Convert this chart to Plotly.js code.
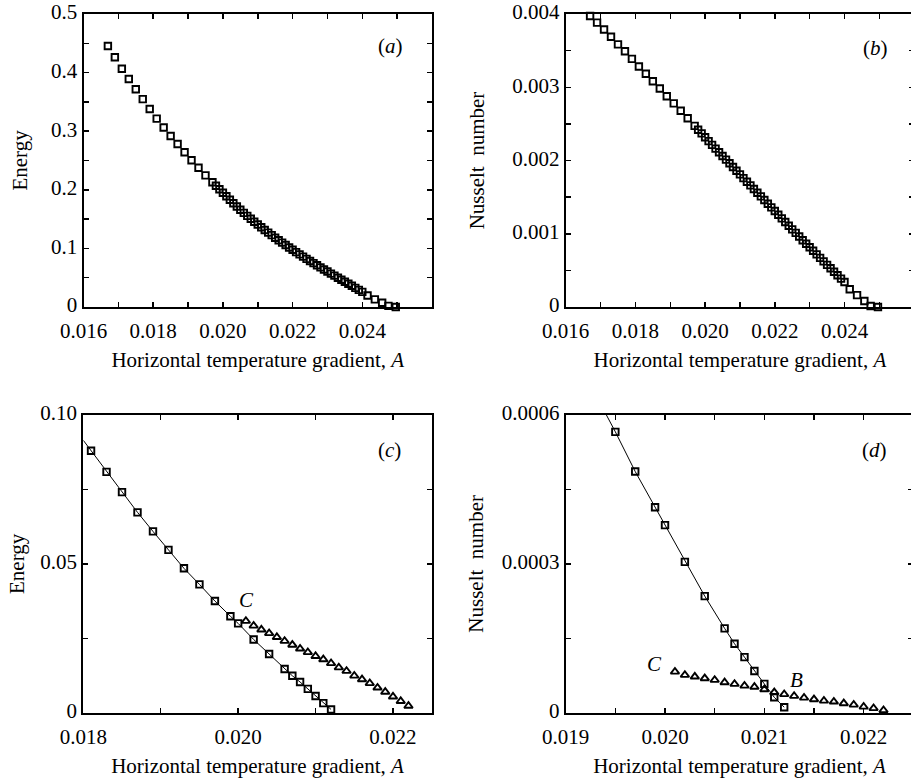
<!DOCTYPE html>
<html>
<head>
<meta charset="utf-8">
<script src="https://cdn.plot.ly/plotly-3.0.1.min.js"></script>
<style>
html, body { margin: 0; padding: 0; overflow: hidden; background: #fff; }
#chart { width: 920px; height: 781px; }
</style>
</head>
<body>
<div id="chart"></div>
<script>
// ---------- data ----------
// Panels (a) and (b): horizontal temperature gradient A
const gradientAB = [
  0.0167,0.0169,0.0171,0.0173,0.0175,0.0177,0.0179,0.0181,0.0183,0.0185,0.0187,0.0189,0.0191,0.0193,0.0195,0.0197,
  0.0198,0.0199,0.0200,0.0201,0.0202,0.0203,0.0204,0.0205,0.0206,0.0207,0.0208,0.0209,0.0210,0.0211,0.0212,0.0213,
  0.0214,0.0215,0.0216,0.0217,0.0218,0.0219,0.0220,0.0221,0.0222,0.0223,0.0224,0.0225,0.0226,0.0227,0.0228,0.0229,
  0.0230,0.0231,0.0232,0.0233,0.0234,0.0235,0.0236,0.0237,0.0238,0.0239,0.0240,
  0.02415,0.02436,0.02457,0.02475,0.02496
];
const energyA = [
  0.4454,0.4262,0.4066,0.3890,0.3716,0.3547,0.3378,0.3215,0.3063,0.2917,0.2782,0.2640,0.2505,0.2376,0.2247,0.2128,
  0.2070,0.2010,0.1950,0.1890,0.1830,0.1770,0.1715,0.1660,0.1607,0.1555,0.1505,0.1456,0.1408,0.1361,0.1315,0.1270,
  0.1226,0.1183,0.1140,0.1098,0.1057,0.1016,0.0976,0.0937,0.0898,0.0860,0.0822,0.0785,0.0748,0.0712,0.0676,0.0640,
  0.0605,0.0570,0.0535,0.0500,0.0466,0.0432,0.0398,0.0362,0.0327,0.0292,0.0258,
  0.0195,0.0130,0.0073,0.0020,0.0000
];
const nusseltB = [
  0.003973,0.003882,0.003788,0.003689,0.003586,0.003491,0.003388,0.003284,0.003185,0.003081,0.002982,0.002878,0.002780,0.002680,0.002577,0.002473,
  0.002420,0.002370,0.002318,0.002265,0.002213,0.002162,0.002112,0.002062,0.002012,0.001962,0.001911,0.001861,0.001810,0.001760,0.001710,0.001660,
  0.001610,0.001560,0.001510,0.001460,0.001410,0.001360,0.001310,0.001260,0.001210,0.001160,0.001110,0.001060,0.001012,0.000962,0.000912,0.000864,
  0.000815,0.000767,0.000719,0.000671,0.000623,0.000575,0.000528,0.000481,0.000434,0.000388,0.000342,
  0.000243,0.000162,0.000081,0.0000135,0.0
];

// Panel (c): energy
const gradientC_sq = [0.0181,0.0183,0.0185,0.0187,0.0189,0.0191,0.0193,0.0195,0.0197,0.0199,0.0200,0.0202,0.0204,0.0206,0.0207,0.0208,0.0209,0.0210,0.0211,0.0212];
const energyC_sq   = [0.0880,0.0809,0.0741,0.0673,0.0609,0.0547,0.0485,0.0431,0.0375,0.0324,0.0300,0.0246,0.0197,0.0147,0.0124,0.0103,0.0080,0.0056,0.0032,0.0011];
const gradientC_line = [0.0180,0.0181,0.0183,0.0185,0.0187,0.0189,0.0191,0.0193,0.0195,0.0197,0.0199,0.0200,0.0202,0.0204,0.0206,0.0207,0.0208,0.0209,0.0210,0.0211,0.0212];
const energyC_line   = [0.0915,0.0880,0.0809,0.0741,0.0673,0.0609,0.0547,0.0485,0.0431,0.0375,0.0324,0.0300,0.0246,0.0197,0.0147,0.0124,0.0103,0.0080,0.0056,0.0032,0.0011];
const gradientC_tri = [0.0201,0.0202,0.0203,0.0204,0.0205,0.0206,0.0207,0.0208,0.0209,0.0210,0.0211,0.0212,0.0213,0.0214,0.0215,0.0216,0.0217,0.0218,0.0219,0.0220,0.0221,0.0222];
const energyC_tri   = [0.0308,0.0292,0.0279,0.0267,0.0254,0.0241,0.0228,0.0215,0.0203,0.0190,0.0179,0.0166,0.0152,0.0140,0.0124,0.0112,0.0099,0.0084,0.0070,0.0054,0.0039,0.0023];

// Panel (d): Nusselt number
const gradientD_sq = [0.0195,0.0197,0.0199,0.0200,0.0202,0.0204,0.0206,0.0207,0.0208,0.0209,0.0210,0.0211,0.0212];
const nusseltD_sq  = [0.000566,0.000486,0.000414,0.000378,0.000304,0.000235,0.000170,0.000139,0.000112,0.000084,0.000058,0.000031,0.000011];
const gradientD_line = [0.01941,0.0195,0.0197,0.0199,0.0200,0.0202,0.0204,0.0206,0.0207,0.0208,0.0209,0.0210,0.0211,0.0212];
const nusseltD_line  = [0.0006,0.000566,0.000486,0.000414,0.000378,0.000304,0.000235,0.000170,0.000139,0.000112,0.000084,0.000058,0.000031,0.000011];
const gradientD_tri = [0.0201,0.0202,0.0203,0.0204,0.0205,0.0206,0.0207,0.0208,0.0209,0.0210,0.0211,0.0212,0.0213,0.0214,0.0215,0.0216,0.0217,0.0218,0.0219,0.0220,0.0221,0.0222];
const nusseltD_tri  = [0.0000826,0.0000760,0.0000726,0.0000693,0.0000659,0.0000612,0.0000578,0.0000544,0.0000520,0.0000471,0.0000411,0.0000371,0.0000337,0.0000302,0.0000270,0.0000240,0.0000222,0.0000189,0.0000161,0.0000121,0.0000089,0.0000050];

// Tick labels
const ticksAB_x = [0.016,0.017,0.018,0.019,0.020,0.021,0.022,0.023,0.024,0.025];
const labelsAB_x = ["0.016","","0.018","","0.020","","0.022","","0.024",""];
const ticksA_y = [0,0.05,0.1,0.15,0.2,0.25,0.3,0.35,0.4,0.45,0.5];
const labelsA_y = ["0","","0.1","","0.2","","0.3","","0.4","","0.5"];
const ticksB_y = [0,0.0005,0.001,0.0015,0.002,0.0025,0.003,0.0035,0.004];
const labelsB_y = ["0","","0.001","","0.002","","0.003","","0.004"];
const ticksC_x = [0.018,0.019,0.020,0.021,0.022];
const labelsC_x = ["0.018","","0.020","","0.022"];
const ticksC_y = [0,0.025,0.05,0.075,0.1];
const labelsC_y = ["0","","0.05","","0.10"];
const ticksD_x = [0.019,0.0195,0.020,0.0205,0.021,0.0215,0.022];
const labelsD_x = ["0.019","","0.020","","0.021","","0.022"];
const ticksD_y = [0,0.00015,0.0003,0.00045,0.0006];
const labelsD_y = ["0","","0.0003","","0.0006"];

const xTitle = "Horizontal temperature gradient, <i>A</i>";

// ---------- layout ----------
const W = 920, H = 781;
const FONT = "'Liberation Serif', 'Times New Roman', serif";
const px = v => v / W;
const py = v => 1 - v / H;

function sq(x, y, xa, ya) {
  return {x: x, y: y, xaxis: xa, yaxis: ya, type: 'scatter', mode: 'markers', cliponaxis: false,
    marker: {symbol: 'square-open', size: 6.5, color: '#000', line: {width: 1.9, color: '#000'}}, showlegend: false, hoverinfo: 'skip'};
}
function tri(x, y, xa, ya) {
  return {x: x, y: y, xaxis: xa, yaxis: ya, type: 'scatter', mode: 'markers', cliponaxis: false,
    marker: {symbol: 'triangle-up-open', size: 7.5, color: '#000', line: {width: 1.9, color: '#000'}}, showlegend: false, hoverinfo: 'skip'};
}
function ln(x, y, xa, ya) {
  return {x: x, y: y, xaxis: xa, yaxis: ya, type: 'scatter', mode: 'lines',
    line: {color: '#000', width: 1}, showlegend: false, hoverinfo: 'skip'};
}

const traces = [
  sq(gradientAB, energyA, 'x', 'y'),
  sq(gradientAB, nusseltB, 'x2', 'y2'),
  ln(gradientC_line, energyC_line, 'x3', 'y3'),
  sq(gradientC_sq, energyC_sq, 'x3', 'y3'),
  tri(gradientC_tri, energyC_tri, 'x3', 'y3'),
  ln(gradientD_line, nusseltD_line, 'x4', 'y4'),
  sq(gradientD_sq, nusseltD_sq, 'x4', 'y4'),
  tri(gradientD_tri, nusseltD_tri, 'x4', 'y4')
];

function common() {
  return {tickmode: 'array', ticks: 'inside', ticklen: 5, tickwidth: 1.5, tickcolor: '#000',
    showline: true, linewidth: 2, linecolor: '#000', mirror: 'ticks', showgrid: false, zeroline: false,
    automargin: false, ticklabeloverflow: 'allow',
    tickfont: {family: FONT, size: 21, color: '#000'}};
}
function xax(domain, range, vals, text, anchor) {
  return Object.assign(common(), {domain: domain, range: range, anchor: anchor, tickvals: vals, ticktext: text,
    ticklabelstandoff: 4,
    title: {text: xTitle, font: {family: FONT, size: 21, color: '#000'}, standoff: 10}});
}
function yax(domain, range, vals, text, anchor, title, standoff) {
  return Object.assign(common(), {domain: domain, range: range, anchor: anchor, tickvals: vals, ticktext: text,
    ticklabelshift: -2,
    title: {text: title, font: {family: FONT, size: 21, color: '#000'}, standoff: standoff}});
}

function note(text, x, y, xr, yr) {
  return {text: text, x: x, y: y, xref: xr, yref: yr, showarrow: false, xanchor: 'center', yanchor: 'middle',
    font: {family: FONT, size: 21, color: '#000'}};
}

const layout = {
  width: W, height: H,
  margin: {l: 0, r: 0, t: 0, b: 0},
  paper_bgcolor: '#fff', plot_bgcolor: '#fff',
  font: {family: FONT, color: '#000'},
  showlegend: false,
  xaxis:  xax([px(83.5), px(432)],  [0.016, 0.026], ticksAB_x, labelsAB_x, 'y'),
  yaxis:  yax([py(307), py(14)],    [0, 0.5],     ticksA_y, labelsA_y, 'x', 'Energy', 18),
  xaxis2: xax([px(565.7), px(914.2)], [0.016, 0.026], ticksAB_x, labelsAB_x, 'y2'),
  yaxis2: yax([py(307), py(14)],    [0, 0.004],   ticksB_y, labelsB_y, 'x2', 'Nusselt\u00a0 number', 22),
  xaxis3: xax([px(83.3), px(431.7)], [0.018, 0.0225], ticksC_x, labelsC_x, 'y3'),
  yaxis3: yax([py(712.7), py(415)], [0, 0.1],     ticksC_y, labelsC_y, 'x3', 'Energy', 10),
  xaxis4: xax([px(565.7), px(913.3)], [0.019, 0.0225], ticksD_x, labelsD_x, 'y4'),
  yaxis4: yax([py(712.7), py(415)], [0, 0.0006],  ticksD_y, labelsD_y, 'x4', 'Nusselt\u00a0 number', 12),
  annotations: [
    note('(<i>a</i>)', 0.02481, 0.446, 'x', 'y'),
    note('(<i>b</i>)', 0.02488, 0.00354, 'x2', 'y2'),
    note('(<i>c</i>)', 0.02196, 0.0882, 'x3', 'y3'),
    note('(<i>d</i>)', 0.02211, 0.000529, 'x4', 'y4'),
    note('<i>C</i>', 0.02011, 0.0379, 'x3', 'y3'),
    note('<i>C</i>', 0.01989, 0.0000981, 'x4', 'y4'),
    note('<i>B</i>', 0.02132, 0.0000659, 'x4', 'y4')
  ]
};

Plotly.newPlot('chart', traces, layout, {staticPlot: true, displayModeBar: false});
</script>
</body>
</html>
